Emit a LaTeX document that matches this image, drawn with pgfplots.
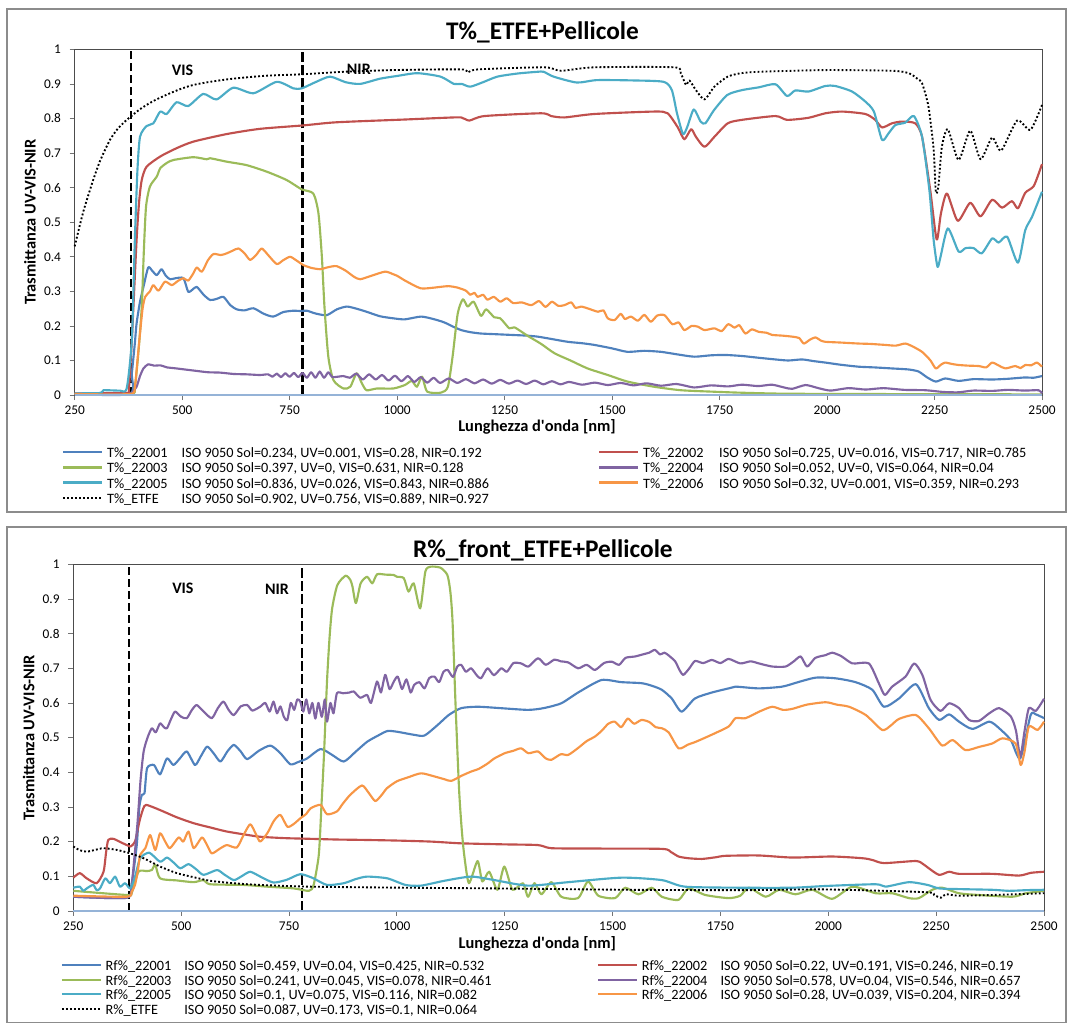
\documentclass[border=0pt]{standalone}
\usepackage{pgfplots}
\pgfplotsset{compat=1.18}
\usepackage{fontspec}
\setmainfont{Carlito}

\definecolor{cBlue}{RGB}{79,129,189}
\definecolor{cRed}{RGB}{192,80,77}
\definecolor{cGreen}{RGB}{155,187,89}
\definecolor{cPurple}{RGB}{128,100,162}
\definecolor{cAqua}{RGB}{75,172,198}
\definecolor{cOrange}{RGB}{247,150,70}
\definecolor{cZero}{RGB}{149,179,215}

\newcommand{\legstrut}{\rule[-2.9pt]{0pt}{12.75pt}}
\newcommand{\lent}[3]{\legstrut\makebox[340pt][l]{\makebox[#1][l]{#2}ISO 9050 #3}}

\pgfplotsset{
  panel/.style={
    scale only axis,
    xmin=250, xmax=2500, ymin=0, ymax=1,
    clip=false,
    axis line style={draw=black!70, line width=0.7pt},
    xtick={250,500,750,1000,1250,1500,1750,2000,2250,2500},
    ytick={0,0.1,0.2,0.3,0.4,0.5,0.6,0.7,0.8,0.9,1},
    tick align=outside,
    xtick pos=left, ytick pos=left,
    major tick length=3.75pt,
    every tick/.style={black!55, line width=0.6pt},
    ticklabel style={font=\fontsize{10}{12}\selectfont},
    /pgf/number format/assume math mode=true,
    /pgf/number format/1000 sep={},
    yticklabel style={/pgf/number format/fixed, /pgf/number format/precision=1, xshift=-3pt},
    xticklabel style={yshift=-1pt},
    xlabel={Lunghezza d\textquotesingle onda [nm]},
    ylabel={Trasmittanza UV-VIS-NIR},
    xlabel style={font=\bfseries\fontsize{12.3}{14}\selectfont, at={(axis description cs:0.478,0)}, anchor=center, yshift=-24pt},
    ylabel style={font=\bfseries\fontsize{12.3}{14}\selectfont, at={(axis description cs:0,0.5)}, anchor=center, rotate=0, yshift=33.5pt},
    legend columns=2,
    legend cell align=left,
    legend image code/.code={\draw[#1] (0pt,0pt) -- (29pt,0pt);},
    legend style={draw=none, fill=none, inner sep=0pt,
      at={(axis description cs:0,0)}, anchor=north west,
      xshift=-9.5pt, yshift=-37.05pt,
      font=\fontsize{10.7}{13}\selectfont,
      row sep=0pt,
      nodes={inner sep=0pt},
      /tikz/every odd column/.append style={column sep=3pt},
      /tikz/every even column/.append style={column sep=28.5pt}},
    every axis plot/.append style={line width=1.6pt, line join=round, smooth, tension=0.4},
  },
  vis/.style={black, line width=1.5pt, dash pattern=on 6pt off 3pt, forget plot},
  nir/.style={black, line width=2.2pt, dash pattern=on 7.5pt off 2.5pt, forget plot},
  etfe/.style={black, line width=1.4pt, dash pattern=on 1.4pt off 1.6pt},
}

\begin{document}
\begin{tikzpicture}[x=1pt,y=1pt]
\useasboundingbox (0,0) rectangle (803.25,-767.25);
\draw[black!45, line width=0.8pt] (5.25,-6.75) rectangle (799.5,-384);
\draw[black!45, line width=0.8pt] (5.25,-395.25) rectangle (799.5,-766.8);

\node[anchor=base, font=\bfseries\fontsize{19}{22}\selectfont] at (406.9,-30) {T\%\_ETFE+Pellicole};
\node[anchor=base, font=\bfseries\fontsize{19}{22}\selectfont] at (407.2,-417.75) {R\%\_front\_ETFE+Pellicole};

% ---------------- transmittance ----------------
\begin{axis}[panel, at={(56pt,-37pt)}, anchor=north west, width=725.5pt, height=259.3pt]
\addplot[vis] coordinates {(380,0) (380,1)};
\addplot[nir] coordinates {(780,0) (780,1)};

\addplot[cBlue] coordinates {(250,0.003)(378,0.003)(383,0.063)(390,0.15)(394,0.207)(402,0.27)(410,0.313)(421,0.369)(430,0.36)(441,0.347)(452,0.364)(462,0.345)(472,0.335)(485,0.338)(503,0.338)(514,0.299)(524,0.305)(534,0.313)(550,0.29)(565,0.275)(580,0.278)(596,0.284)(612,0.26)(627,0.248)(645,0.245)(666,0.251)(690,0.235)(712,0.227)(735,0.24)(759,0.244)(775,0.243)(790,0.244)(810,0.236)(836,0.231)(860,0.248)(883,0.256)(905,0.25)(929,0.241)(960,0.228)(991,0.222)(1018,0.219)(1056,0.227)(1087,0.219)(1110,0.21)(1130,0.198)(1149,0.188)(1170,0.182)(1195,0.178)(1230,0.176)(1265,0.174)(1300,0.172)(1327,0.169)(1360,0.162)(1397,0.154)(1430,0.15)(1459,0.145)(1500,0.135)(1536,0.125)(1575,0.128)(1614,0.125)(1650,0.118)(1691,0.111)(1730,0.115)(1764,0.116)(1802,0.113)(1840,0.108)(1880,0.103)(1910,0.1)(1942,0.103)(1970,0.098)(1996,0.094)(2030,0.088)(2074,0.082)(2110,0.08)(2151,0.077)(2190,0.074)(2213,0.068)(2233,0.051)(2253,0.039)(2275,0.048)(2306,0.041)(2340,0.046)(2384,0.045)(2420,0.047)(2461,0.051)(2480,0.05)(2500,0.055)};
\addlegendentry{\lent{56pt}{T\%\_22001}{Sol=0.234, UV=0.001, VIS=0.28, NIR=0.192}}

\addplot[cRed] coordinates {(250,0.005)(370,0.006)(376,0.016)(383,0.16)(394,0.448)(400,0.56)(406,0.622)(417,0.66)(449,0.69)(487,0.714)(526,0.733)(604,0.755)(681,0.77)(782,0.78)(859,0.789)(1018,0.797)(1110,0.802)(1149,0.803)(1168,0.794)(1203,0.807)(1335,0.815)(1358,0.807)(1389,0.803)(1459,0.813)(1598,0.82)(1629,0.815)(1653,0.774)(1668,0.74)(1684,0.769)(1695,0.747)(1715,0.718)(1738,0.747)(1769,0.786)(1802,0.796)(1880,0.807)(1907,0.796)(1957,0.802)(1996,0.815)(2035,0.82)(2089,0.813)(2112,0.796)(2128,0.774)(2151,0.786)(2174,0.791)(2205,0.786)(2221,0.747)(2240,0.593)(2255,0.45)(2265,0.526)(2279,0.583)(2304,0.504)(2333,0.556)(2357,0.517)(2384,0.565)(2407,0.542)(2430,0.561)(2444,0.54)(2461,0.585)(2481,0.605)(2500,0.668)};
\addlegendentry{\lent{57pt}{T\%\_22002}{Sol=0.725, UV=0.016, VIS=0.717, NIR=0.785}}

\addplot[cGreen] coordinates {(250,0.003)(380,0.003)(390,0.024)(398,0.12)(406,0.255)(411,0.42)(416,0.545)(425,0.603)(441,0.632)(449,0.656)(465,0.672)(480,0.68)(526,0.688)(557,0.682)(565,0.685)(604,0.675)(650,0.665)(697,0.646)(743,0.622)(778,0.595)(805,0.583)(817,0.526)(825,0.4)(831,0.256)(840,0.111)(852,0.043)(875,0.019)(891,0.024)(906,0.063)(918,0.034)(929,0.014)(953,0.019)(991,0.019)(1018,0.029)(1034,0.041)(1046,0.024)(1058,0.053)(1070,0.01)(1102,0.007)(1118,0.024)(1129,0.111)(1141,0.236)(1153,0.277)(1164,0.256)(1178,0.27)(1195,0.229)(1207,0.248)(1226,0.225)(1240,0.222)(1261,0.193)(1273,0.196)(1304,0.171)(1335,0.148)(1366,0.121)(1405,0.099)(1443,0.077)(1490,0.058)(1536,0.039)(1598,0.024)(1660,0.014)(1730,0.01)(1796,0.007)(1900,0.004)(2100,0.003)(2500,0.002)};
\addlegendentry{\lent{56pt}{T\%\_22003}{Sol=0.397, UV=0, VIS=0.631, NIR=0.128}}

\addplot[cPurple] coordinates {(250,0.003)(375,0.003)(385,0.01)(394,0.024)(402,0.055)(410,0.077)(421,0.089)(435,0.085)(449,0.086)(465,0.08)(480,0.078)(500,0.075)(526,0.071)(560,0.066)(588,0.065)(620,0.061)(650,0.06)(681,0.058)(700,0.06)(710,0.053)(720,0.062)(730,0.052)(740,0.063)(750,0.053)(760,0.064)(770,0.052)(780,0.064)(790,0.05)(800,0.066)(810,0.05)(820,0.068)(830,0.05)(840,0.066)(850,0.052)(875,0.055)(890,0.05)(905,0.062)(920,0.045)(935,0.06)(950,0.045)(965,0.058)(980,0.042)(995,0.056)(1010,0.04)(1025,0.055)(1040,0.038)(1055,0.052)(1070,0.036)(1085,0.05)(1100,0.035)(1120,0.048)(1140,0.035)(1160,0.046)(1180,0.034)(1200,0.045)(1220,0.033)(1240,0.044)(1260,0.033)(1280,0.042)(1300,0.032)(1320,0.042)(1340,0.031)(1360,0.04)(1380,0.031)(1400,0.038)(1430,0.03)(1460,0.036)(1490,0.029)(1520,0.035)(1550,0.028)(1580,0.034)(1614,0.027)(1650,0.032)(1691,0.022)(1730,0.028)(1770,0.025)(1802,0.03)(1840,0.026)(1872,0.03)(1900,0.022)(1919,0.018)(1950,0.029)(1980,0.02)(2008,0.013)(2050,0.02)(2090,0.016)(2131,0.02)(2180,0.015)(2229,0.014)(2270,0.009)(2306,0.008)(2340,0.013)(2384,0.012)(2420,0.015)(2460,0.013)(2492,0.014)(2500,0.005)};
\addlegendentry{\lent{57pt}{T\%\_22004}{Sol=0.052, UV=0, VIS=0.064, NIR=0.04}}

\addplot[cAqua] coordinates {(250,0.005)(310,0.006)(317,0.014)(355,0.013)(371,0.019)(383,0.16)(390,0.45)(396,0.65)(402,0.747)(417,0.778)(433,0.786)(449,0.82)(464,0.813)(487,0.847)(514,0.836)(549,0.871)(580,0.855)(619,0.889)(666,0.873)(720,0.906)(759,0.887)(778,0.887)(810,0.905)(844,0.921)(880,0.905)(914,0.9)(960,0.915)(1000,0.923)(1047,0.931)(1101,0.921)(1132,0.9)(1150,0.9)(1170,0.892)(1200,0.905)(1233,0.921)(1280,0.93)(1326,0.935)(1341,0.935)(1364,0.921)(1418,0.904)(1465,0.911)(1550,0.91)(1620,0.906)(1639,0.882)(1651,0.815)(1665,0.755)(1675,0.776)(1690,0.826)(1706,0.791)(1717,0.786)(1737,0.824)(1768,0.868)(1802,0.882)(1841,0.89)(1880,0.899)(1907,0.865)(1926,0.881)(1957,0.878)(1996,0.894)(2019,0.894)(2058,0.878)(2089,0.849)(2109,0.82)(2128,0.738)(2143,0.757)(2159,0.781)(2182,0.788)(2202,0.807)(2221,0.747)(2238,0.593)(2248,0.448)(2257,0.371)(2264,0.4)(2281,0.482)(2306,0.415)(2322,0.425)(2341,0.425)(2360,0.41)(2384,0.453)(2399,0.441)(2419,0.458)(2444,0.383)(2461,0.477)(2477,0.516)(2500,0.588)};
\addlegendentry{\lent{56pt}{T\%\_22005}{Sol=0.836, UV=0.026, VIS=0.843, NIR=0.886}}

\addplot[cOrange] coordinates {(250,0.003)(378,0.003)(390,0.024)(396,0.1)(402,0.178)(408,0.25)(414,0.284)(425,0.3)(433,0.318)(445,0.302)(460,0.328)(476,0.318)(490,0.33)(503,0.338)(514,0.331)(525,0.35)(534,0.369)(546,0.357)(560,0.39)(573,0.408)(590,0.405)(604,0.41)(618,0.418)(631,0.424)(645,0.41)(658,0.391)(672,0.405)(685,0.424)(700,0.405)(720,0.379)(735,0.39)(751,0.4)(765,0.39)(782,0.376)(800,0.368)(821,0.364)(840,0.37)(859,0.373)(880,0.36)(900,0.342)(914,0.335)(940,0.345)(972,0.357)(990,0.35)(1000,0.345)(1020,0.33)(1054,0.309)(1080,0.31)(1101,0.313)(1120,0.315)(1140,0.311)(1160,0.302)(1170,0.29)(1180,0.296)(1187,0.284)(1200,0.29)(1210,0.276)(1225,0.284)(1240,0.27)(1255,0.28)(1270,0.266)(1290,0.268)(1312,0.26)(1330,0.272)(1345,0.255)(1360,0.27)(1375,0.258)(1389,0.26)(1405,0.268)(1415,0.252)(1428,0.256)(1445,0.25)(1467,0.241)(1480,0.245)(1490,0.222)(1506,0.217)(1520,0.235)(1530,0.22)(1544,0.227)(1560,0.215)(1575,0.232)(1590,0.212)(1605,0.23)(1622,0.231)(1640,0.205)(1655,0.21)(1668,0.188)(1685,0.2)(1699,0.198)(1715,0.188)(1738,0.193)(1755,0.185)(1770,0.205)(1785,0.195)(1796,0.202)(1810,0.178)(1825,0.19)(1841,0.183)(1860,0.18)(1872,0.174)(1895,0.172)(1919,0.169)(1935,0.165)(1946,0.149)(1960,0.16)(1973,0.167)(1985,0.158)(1996,0.154)(2030,0.152)(2074,0.149)(2100,0.148)(2136,0.145)(2160,0.143)(2182,0.149)(2200,0.14)(2221,0.125)(2240,0.101)(2253,0.077)(2265,0.088)(2275,0.094)(2290,0.09)(2306,0.087)(2330,0.085)(2353,0.084)(2370,0.08)(2384,0.094)(2400,0.085)(2415,0.077)(2438,0.084)(2450,0.078)(2461,0.087)(2475,0.086)(2488,0.094)(2500,0.082)};
\addlegendentry{\lent{57pt}{T\%\_22006}{Sol=0.32, UV=0.001, VIS=0.359, NIR=0.293}}

\addplot[etfe] coordinates {(250,0.43)(270,0.53)(293,0.622)(310,0.68)(332,0.738)(350,0.77)(371,0.796)(380,0.805)(400,0.825)(417,0.839)(440,0.855)(472,0.873)(500,0.887)(526,0.897)(560,0.905)(604,0.913)(650,0.919)(700,0.924)(782,0.928)(875,0.935)(991,0.94)(1149,0.942)(1164,0.933)(1188,0.942)(1343,0.948)(1381,0.938)(1459,0.948)(1645,0.948)(1660,0.93)(1672,0.897)(1680,0.91)(1695,0.882)(1715,0.855)(1738,0.892)(1769,0.921)(1800,0.931)(1841,0.935)(1996,0.94)(2151,0.938)(2190,0.931)(2210,0.915)(2221,0.902)(2236,0.834)(2248,0.709)(2253,0.588)(2259,0.603)(2267,0.718)(2281,0.769)(2306,0.68)(2333,0.765)(2357,0.682)(2384,0.745)(2405,0.707)(2442,0.794)(2473,0.767)(2500,0.839)};
\addlegendentry{\lent{56pt}{T\%\_ETFE}{Sol=0.902, UV=0.756, VIS=0.889, NIR=0.927}}

\addplot[cZero, line width=1.6pt, forget plot] coordinates {(250,0) (2500,0)};

\node[font=\bfseries\fontsize{12}{14}\selectfont] at (axis cs:501,0.94) {VIS};
\node[font=\bfseries\fontsize{12}{14}\selectfont] at (axis cs:911,0.942) {NIR};
\end{axis}

\renewcommand{\legstrut}{\rule[-2.7pt]{0pt}{12.2pt}}
% ---------------- front reflectance ----------------
\begin{axis}[panel, at={(55pt,-423.2pt)}, anchor=north west, width=728pt, height=260pt,
  xlabel style={yshift=-0.75pt},
  legend style={yshift=2.2pt}]
\addplot[vis] coordinates {(380,0) (380,1)};
\addplot[nir] coordinates {(780,0) (780,1)};

\addplot[cBlue] coordinates {(250,0.041)(374,0.038)(385,0.075)(397,0.19)(403,0.3)(409,0.335)(415,0.34)(421,0.412)(437,0.421)(451,0.394)(467,0.44)(482,0.421)(497,0.44)(513,0.46)(532,0.421)(545,0.445)(560,0.474)(575,0.455)(591,0.431)(607,0.46)(622,0.479)(638,0.46)(653,0.438)(680,0.462)(707,0.477)(730,0.455)(753,0.423)(772,0.43)(792,0.44)(823,0.467)(850,0.45)(877,0.431)(905,0.46)(931,0.488)(955,0.505)(978,0.519)(1000,0.517)(1040,0.508)(1064,0.506)(1095,0.537)(1120,0.565)(1149,0.585)(1188,0.589)(1240,0.585)(1304,0.58)(1340,0.585)(1381,0.599)(1420,0.63)(1474,0.666)(1520,0.66)(1567,0.657)(1590,0.65)(1614,0.638)(1637,0.613)(1660,0.575)(1691,0.613)(1730,0.63)(1769,0.642)(1785,0.647)(1839,0.642)(1893,0.647)(1930,0.66)(1971,0.673)(2017,0.671)(2063,0.66)(2102,0.638)(2129,0.589)(2164,0.613)(2203,0.654)(2233,0.585)(2257,0.551)(2280,0.567)(2303,0.546)(2334,0.525)(2373,0.546)(2396,0.527)(2423,0.493)(2445,0.44)(2469,0.565)(2481,0.567)(2500,0.556)};
\addlegendentry{\lent{59pt}{Rf\%\_22001}{Sol=0.459, UV=0.04, VIS=0.425, NIR=0.532}}

\addplot[cRed] coordinates {(250,0.096)(265,0.109)(281,0.094)(304,0.08)(320,0.113)(326,0.17)(331,0.205)(343,0.208)(360,0.198)(374,0.19)(383,0.186)(393,0.2)(400,0.24)(405,0.267)(412,0.295)(419,0.306)(451,0.291)(490,0.27)(529,0.253)(570,0.24)(606,0.229)(650,0.22)(683,0.214)(740,0.21)(800,0.208)(860,0.206)(916,0.205)(1000,0.203)(1080,0.2)(1149,0.195)(1250,0.192)(1327,0.19)(1358,0.181)(1450,0.18)(1614,0.179)(1635,0.17)(1653,0.157)(1676,0.152)(1707,0.15)(1740,0.155)(1762,0.159)(1839,0.16)(1917,0.154)(2009,0.157)(2080,0.152)(2102,0.147)(2129,0.138)(2203,0.144)(2220,0.135)(2233,0.123)(2257,0.104)(2280,0.113)(2303,0.107)(2380,0.107)(2442,0.102)(2470,0.11)(2500,0.113)};
\addlegendentry{\lent{59pt}{Rf\%\_22002}{Sol=0.22, UV=0.191, VIS=0.246, NIR=0.19}}

\addplot[cGreen] coordinates {(250,0.058)(374,0.046)(385,0.051)(401,0.113)(420,0.115)(432,0.118)(440,0.133)(451,0.094)(490,0.088)(529,0.083)(552,0.089)(567,0.077)(645,0.075)(700,0.07)(761,0.065)(796,0.058)(807,0.075)(819,0.162)(825,0.3)(831,0.45)(838,0.662)(844,0.79)(850,0.873)(862,0.94)(881,0.967)(892,0.955)(897,0.936)(905,0.888)(916,0.945)(931,0.964)(943,0.945)(954,0.971)(975,0.97)(993,0.969)(1000,0.964)(1016,0.96)(1027,0.921)(1039,0.945)(1054,0.873)(1066,0.979)(1078,0.993)(1101,0.99)(1117,0.969)(1124,0.92)(1129,0.835)(1136,0.594)(1144,0.354)(1150,0.24)(1156,0.162)(1167,0.08)(1187,0.144)(1198,0.085)(1214,0.113)(1233,0.061)(1249,0.128)(1268,0.061)(1292,0.08)(1304,0.041)(1319,0.08)(1335,0.048)(1358,0.083)(1381,0.041)(1420,0.037)(1443,0.085)(1467,0.044)(1506,0.037)(1529,0.067)(1560,0.048)(1591,0.067)(1614,0.041)(1653,0.032)(1676,0.065)(1715,0.046)(1769,0.037)(1796,0.044)(1816,0.067)(1855,0.041)(1886,0.061)(1924,0.048)(1963,0.061)(2009,0.035)(2056,0.07)(2110,0.051)(2148,0.051)(2187,0.037)(2210,0.037)(2241,0.061)(2264,0.067)(2303,0.051)(2349,0.046)(2427,0.041)(2458,0.051)(2500,0.058)};
\addlegendentry{\lent{59pt}{Rf\%\_22003}{Sol=0.241, UV=0.045, VIS=0.078, NIR=0.461}}

\addplot[cPurple] coordinates {(250,0.041)(374,0.038)(385,0.075)(392,0.16)(399,0.258)(406,0.38)(413,0.46)(422,0.5)(432,0.527)(441,0.515)(451,0.541)(460,0.53)(467,0.527)(477,0.555)(486,0.575)(500,0.56)(513,0.556)(525,0.58)(536,0.594)(552,0.575)(571,0.556)(585,0.585)(598,0.604)(610,0.58)(622,0.565)(638,0.59)(653,0.594)(665,0.578)(683,0.589)(695,0.6)(705,0.575)(714,0.604)(722,0.57)(730,0.59)(738,0.56)(746,0.551)(754,0.6)(762,0.58)(769,0.61)(776,0.604)(783,0.575)(790,0.61)(797,0.57)(804,0.6)(811,0.555)(818,0.6)(826,0.56)(833,0.61)(838,0.546)(846,0.6)(853,0.57)(861,0.628)(875,0.628)(890,0.63)(900,0.633)(915,0.615)(931,0.623)(940,0.6)(954,0.662)(963,0.63)(973,0.681)(983,0.64)(993,0.662)(1002,0.676)(1012,0.64)(1022,0.668)(1032,0.63)(1040,0.652)(1052,0.66)(1064,0.642)(1075,0.672)(1087,0.676)(1098,0.66)(1108,0.69)(1118,0.695)(1130,0.675)(1140,0.705)(1149,0.71)(1160,0.69)(1172,0.7)(1185,0.68)(1195,0.671)(1210,0.7)(1225,0.68)(1242,0.7)(1255,0.69)(1270,0.715)(1288,0.714)(1305,0.705)(1327,0.729)(1345,0.71)(1365,0.725)(1380,0.72)(1397,0.717)(1420,0.7)(1440,0.71)(1459,0.695)(1480,0.715)(1498,0.719)(1515,0.71)(1530,0.73)(1552,0.734)(1570,0.74)(1585,0.745)(1598,0.753)(1610,0.74)(1620,0.745)(1629,0.738)(1645,0.72)(1655,0.695)(1664,0.681)(1678,0.7)(1691,0.721)(1710,0.715)(1730,0.724)(1750,0.715)(1769,0.727)(1796,0.714)(1820,0.72)(1839,0.714)(1870,0.705)(1901,0.705)(1920,0.72)(1936,0.734)(1951,0.705)(1970,0.73)(1994,0.738)(2009,0.745)(2030,0.735)(2056,0.714)(2094,0.714)(2117,0.657)(2131,0.623)(2148,0.647)(2179,0.676)(2199,0.714)(2218,0.681)(2237,0.609)(2260,0.577)(2280,0.599)(2303,0.585)(2326,0.551)(2349,0.548)(2373,0.57)(2396,0.585)(2423,0.561)(2435,0.52)(2445,0.445)(2455,0.52)(2465,0.585)(2481,0.577)(2500,0.612)};
\addlegendentry{\lent{59pt}{Rf\%\_22004}{Sol=0.578, UV=0.04, VIS=0.546, NIR=0.657}}

\addplot[cAqua] coordinates {(250,0.067)(265,0.07)(273,0.058)(281,0.065)(296,0.075)(304,0.06)(312,0.065)(324,0.094)(335,0.08)(347,0.099)(358,0.07)(370,0.08)(382,0.065)(393,0.099)(405,0.152)(426,0.168)(451,0.142)(467,0.154)(482,0.14)(498,0.123)(517,0.135)(535,0.12)(552,0.104)(583,0.118)(600,0.105)(622,0.089)(640,0.1)(660,0.113)(685,0.098)(714,0.082)(745,0.09)(776,0.106)(805,0.095)(838,0.075)(877,0.08)(905,0.092)(931,0.099)(978,0.094)(1020,0.075)(1056,0.073)(1110,0.087)(1172,0.099)(1226,0.089)(1304,0.073)(1397,0.083)(1521,0.096)(1614,0.089)(1668,0.07)(1796,0.067)(1917,0.067)(1994,0.072)(2110,0.077)(2133,0.07)(2187,0.083)(2230,0.075)(2257,0.065)(2303,0.063)(2380,0.061)(2419,0.058)(2460,0.06)(2500,0.061)};
\addlegendentry{\lent{59pt}{Rf\%\_22005}{Sol=0.1, UV=0.075, VIS=0.116, NIR=0.082}}

\addplot[cOrange] coordinates {(250,0.044)(374,0.041)(385,0.055)(393,0.075)(400,0.12)(405,0.162)(417,0.181)(428,0.219)(440,0.176)(451,0.224)(463,0.2)(474,0.181)(494,0.212)(505,0.2)(517,0.229)(529,0.181)(548,0.212)(560,0.19)(571,0.166)(590,0.18)(606,0.19)(629,0.183)(645,0.22)(660,0.25)(672,0.225)(683,0.2)(700,0.225)(715,0.26)(730,0.277)(746,0.243)(760,0.25)(776,0.267)(790,0.28)(800,0.296)(823,0.306)(838,0.279)(861,0.287)(875,0.31)(892,0.335)(919,0.362)(935,0.34)(950,0.317)(965,0.335)(977,0.354)(1000,0.374)(1025,0.385)(1056,0.397)(1087,0.388)(1110,0.38)(1126,0.375)(1150,0.39)(1172,0.402)(1190,0.41)(1210,0.425)(1226,0.44)(1250,0.455)(1270,0.462)(1288,0.469)(1305,0.455)(1327,0.46)(1345,0.44)(1358,0.436)(1380,0.452)(1397,0.45)(1420,0.47)(1440,0.49)(1459,0.503)(1475,0.52)(1490,0.54)(1505,0.546)(1520,0.53)(1535,0.555)(1550,0.54)(1567,0.551)(1585,0.545)(1600,0.53)(1614,0.527)(1630,0.515)(1653,0.469)(1675,0.48)(1691,0.487)(1715,0.5)(1738,0.513)(1769,0.532)(1785,0.556)(1808,0.556)(1840,0.575)(1870,0.589)(1895,0.58)(1917,0.583)(1950,0.595)(1994,0.602)(2020,0.595)(2048,0.589)(2087,0.565)(2125,0.522)(2145,0.535)(2164,0.554)(2203,0.565)(2233,0.527)(2264,0.477)(2288,0.493)(2318,0.464)(2349,0.473)(2380,0.483)(2404,0.498)(2434,0.483)(2446,0.421)(2455,0.46)(2465,0.532)(2485,0.522)(2500,0.546)};
\addlegendentry{\lent{59pt}{Rf\%\_22006}{Sol=0.28, UV=0.039, VIS=0.204, NIR=0.394}}

\addplot[etfe] coordinates {(250,0.186)(265,0.175)(281,0.171)(300,0.176)(320,0.181)(351,0.176)(382,0.166)(413,0.152)(451,0.128)(490,0.109)(530,0.097)(567,0.087)(620,0.08)(683,0.075)(800,0.07)(1020,0.067)(1226,0.065)(1536,0.061)(1796,0.06)(1994,0.062)(2226,0.054)(2245,0.046)(2261,0.038)(2272,0.048)(2303,0.044)(2380,0.046)(2500,0.051)};
\addlegendentry{\lent{59pt}{R\%\_ETFE}{Sol=0.087, UV=0.173, VIS=0.1, NIR=0.064}}

\addplot[cZero, line width=1.6pt, forget plot] coordinates {(250,0) (2500,0)};

\node[font=\bfseries\fontsize{12}{14}\selectfont] at (axis cs:504,0.931) {VIS};
\node[font=\bfseries\fontsize{12}{14}\selectfont] at (axis cs:722,0.929) {NIR};
\end{axis}
\end{tikzpicture}
\end{document}
